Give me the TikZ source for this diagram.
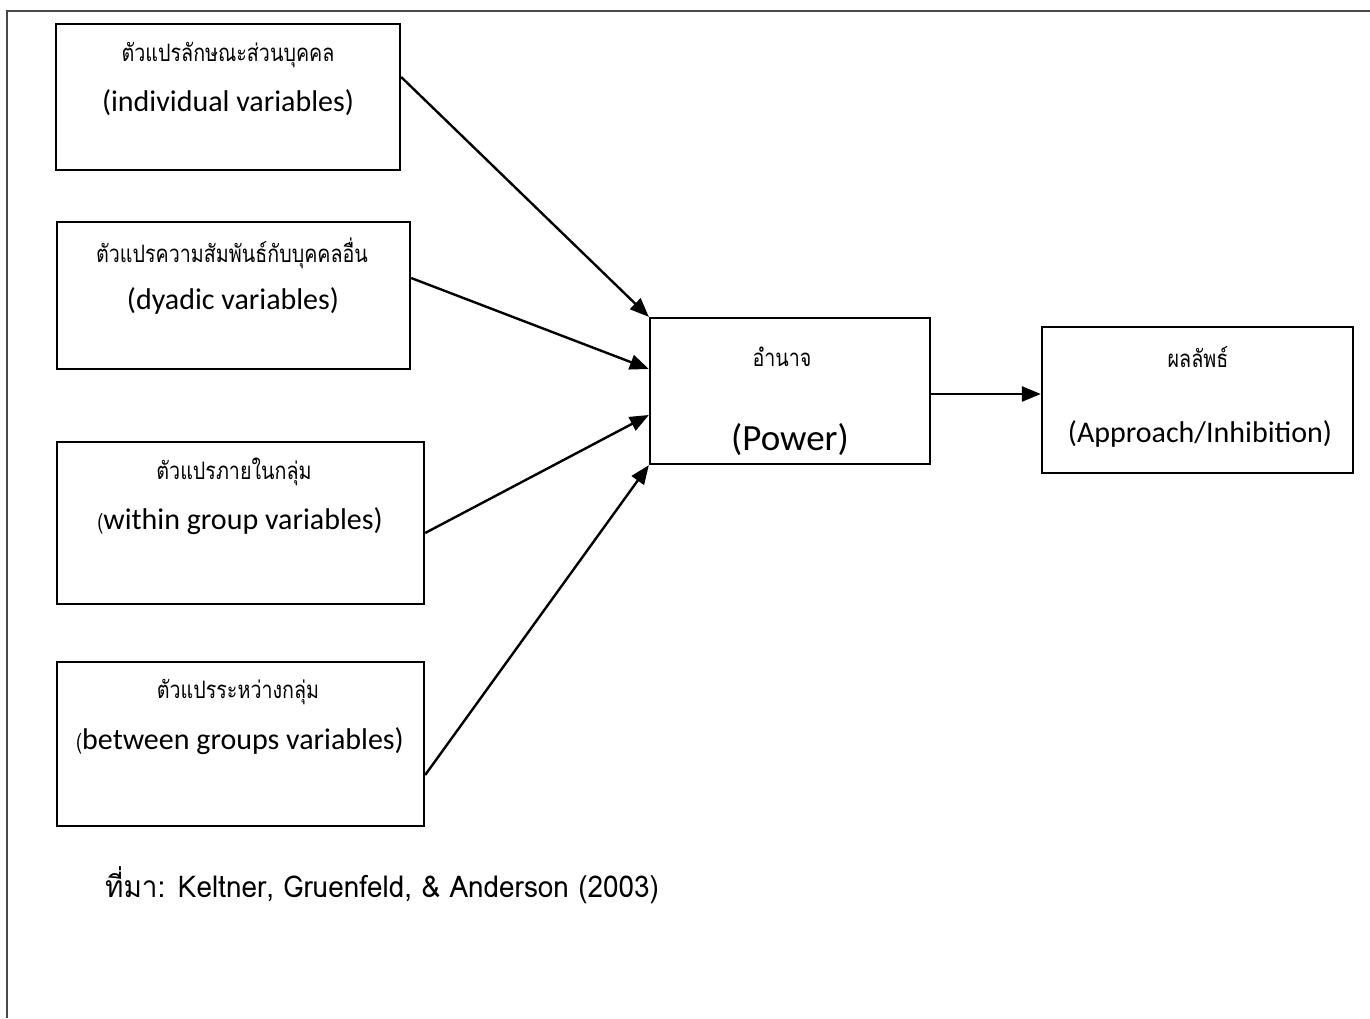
\documentclass[tikz,border=0pt]{standalone}
\usepackage{fontspec}
\setmainfont{Carlito}
\newfontfamily\thai[Script=Thai,FakeStretch=0.82]{Loma}
\newfontfamily\thaisrc[Script=Thai,FakeStretch=0.93]{Loma}
\usetikzlibrary{arrows.meta}
\begin{document}
\begin{tikzpicture}[x=1pt,y=-1pt,
  box/.style={draw=black,line width=2.3pt,minimum width=#1,inner sep=0pt},
  th/.style={font=\thai\fontsize{24}{27}\selectfont,inner sep=0pt},
  en/.style={font=\fontsize{30}{34}\selectfont,inner sep=0pt},
  arr/.style={line width=2.4pt,-{Triangle[length=19pt,width=15pt]}}]
\useasboundingbox (0,0) rectangle (1370,1018);
\draw[line width=2.2pt,color=black!72] (7,1018) -- (7,11) -- (1370,11);
% left boxes
\node[box=344pt,minimum height=146pt] (b1) at (228,97) {};
\node[box=353pt,minimum height=147pt] (b2) at (233.5,295.5) {};
\node[box=367pt,minimum height=162pt] (b3) at (240.5,523) {};
\node[box=367pt,minimum height=164pt] (b4) at (240.5,744) {};
\node[box=280pt,minimum height=146pt] (p) at (790,391) {};
\node[box=311pt,minimum height=146pt] (a) at (1197.5,400) {};
% texts
\node[th] (t1) at (228,55) {ตัวแปรลักษณะส่วนบุคคล};
\node[en] (e1) at (228,103) {(individual variables)};
\node[th] (t2) at (232,253) {ตัวแปรความสัมพันธ์กับบุคคลอื่น};
\node[en] (e2) at (233,301) {(dyadic variables)};
\node[th] (t3) at (234,472) {ตัวแปรภายในกลุ่ม};
\node[en] (e3) at (240,521) {{\thai\fontsize{22}{24}\selectfont(}within group variables)};
\node[th] (t4) at (238,692) {ตัวแปรระหว่างกลุ่ม};
\node[en] (e4) at (240,741) {{\thai\fontsize{22}{24}\selectfont(}between groups variables)};
\node[th] (tp) at (782,357) {อำนาจ};
\node[en,font=\fontsize{37}{40}\selectfont] (ep) at (790,440) {(Power)};
\node[th] (ta) at (1198,357) {ผลลัพธ์};
\node[en] (ea) at (1200,434) {(Approach/Inhibition)};
\node[font=\thaisrc\fontsize{30}{34}\selectfont,inner sep=0pt,anchor=west] (src) at (105,885) {ที่มา: Keltner, Gruenfeld, \& Anderson (2003)};
% arrows
\draw[arr] ([yshift=20pt]b1.east) -- (p.north west);
\draw[arr] ([yshift=17.5pt]b2.east) -- ([yshift=22pt]p.west);
\draw[arr] ([yshift=-10pt]b3.east) -- ([yshift=-24pt]p.west);
\draw[arr] ([yshift=-31pt]b4.east) -- (p.south west);
\draw[arr] ([yshift=-3pt]p.east) -- ([yshift=-3pt]p.east -| a.west);
\end{tikzpicture}
\end{document}
